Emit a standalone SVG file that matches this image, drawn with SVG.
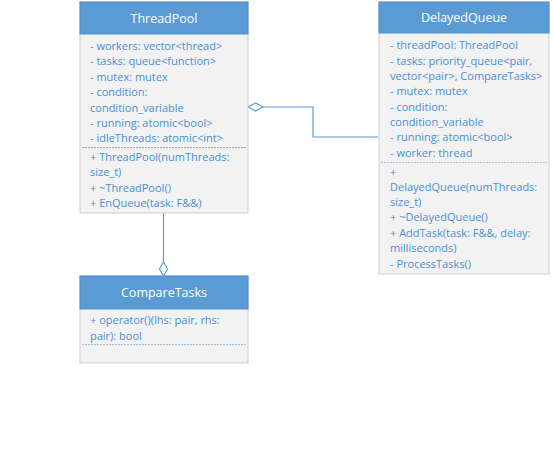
<svg xmlns="http://www.w3.org/2000/svg" width="554" height="474" viewBox="0 0 554 474">
<style>
.hdr{fill:#5b9bd5;stroke:#4f8dc9;stroke-width:1}
.body{fill:#f2f2f2;stroke:#cfcfcf;stroke-width:1}
.title{font-family:"Open Sans","Noto Sans",sans-serif;font-size:12.5px;fill:#ffffff;text-anchor:middle}
.t{font-family:"Open Sans","Noto Sans",sans-serif;font-size:11px;fill:#4a8fd4}
.sep{stroke:#9dc3e6;stroke-width:1;stroke-dasharray:2 1}
.sep2{stroke:#a0a0a0;stroke-width:1;stroke-dasharray:2 1}
.conn{fill:none;stroke:#5b9bd5;stroke-width:1.2}
.dia{fill:#ffffff;stroke:#5b9bd5;stroke-width:1.2}
</style>
<rect width="554" height="474" fill="#ffffff"/>
<g id="connectors">
<path class="conn" d="M263,107 H313 V137 H378"/>
<path class="dia" d="M248,107 L255.5,103 L263,107 L255.5,111 Z"/>
<path class="conn" d="M163.5,213 V262"/>
<path class="dia" d="M163.5,262 L167.5,269 L163.5,276 L159.5,269 Z"/>
</g>
<g id="ThreadPool">
<rect class="body" x="80" y="2" width="168" height="211"/>
<rect class="hdr" x="80" y="2" width="168" height="32"/>
<text class="title" x="164" y="23">ThreadPool</text>
<text class="t" x="90" y="50">- workers: vector&lt;thread&gt;</text>
<text class="t" x="90" y="65">- tasks: queue&lt;function&gt;</text>
<text class="t" x="90" y="81">- mutex: mutex</text>
<text class="t" x="90" y="96">- condition:</text>
<text class="t" x="90" y="112">condition_variable</text>
<text class="t" x="90" y="127">- running: atomic&lt;bool&gt;</text>
<text class="t" x="90" y="142">- idleThreads: atomic&lt;int&gt;</text>
<line class="sep2" x1="82" y1="147.5" x2="246" y2="147.5"/>
<text class="t" x="90" y="161">+ ThreadPool(numThreads:</text>
<text class="t" x="90" y="176">size_t)</text>
<text class="t" x="90" y="192">+ ~ThreadPool()</text>
<text class="t" x="90" y="207">+ EnQueue(task: F&amp;&amp;)</text>
</g>
<g id="DelayedQueue">
<rect class="body" x="379" y="2" width="170" height="272"/>
<rect class="hdr" x="379" y="2" width="170" height="31"/>
<text class="title" x="464" y="22">DelayedQueue</text>
<text class="t" x="390" y="49">- threadPool: ThreadPool</text>
<text class="t" x="390" y="65">- tasks: priority_queue&lt;pair,</text>
<text class="t" x="390" y="80">vector&lt;pair&gt;, CompareTasks&gt;</text>
<text class="t" x="390" y="95">- mutex: mutex</text>
<text class="t" x="390" y="111">- condition:</text>
<text class="t" x="390" y="126">condition_variable</text>
<text class="t" x="390" y="141">- running: atomic&lt;bool&gt;</text>
<text class="t" x="390" y="157">- worker: thread</text>
<line class="sep" x1="381" y1="162.5" x2="547" y2="162.5"/>
<text class="t" x="390" y="176">+</text>
<text class="t" x="390" y="191">DelayedQueue(numThreads:</text>
<text class="t" x="390" y="206">size_t)</text>
<text class="t" x="390" y="221">+ ~DelayedQueue()</text>
<text class="t" x="390" y="237">+ AddTask(task: F&amp;&amp;, delay:</text>
<text class="t" x="390" y="252">milliseconds)</text>
<text class="t" x="390" y="268">- ProcessTasks()</text>
</g>
<g id="CompareTasks">
<rect class="body" x="80" y="276" width="168" height="87"/>
<rect class="hdr" x="80" y="276" width="168" height="33"/>
<text class="title" x="164" y="297">CompareTasks</text>
<text class="t" x="90" y="324">+ operator()(lhs: pair, rhs:</text>
<text class="t" x="90" y="340">pair): bool</text>
<line class="sep" x1="82" y1="344.5" x2="246" y2="344.5"/>
</g>
</svg>
